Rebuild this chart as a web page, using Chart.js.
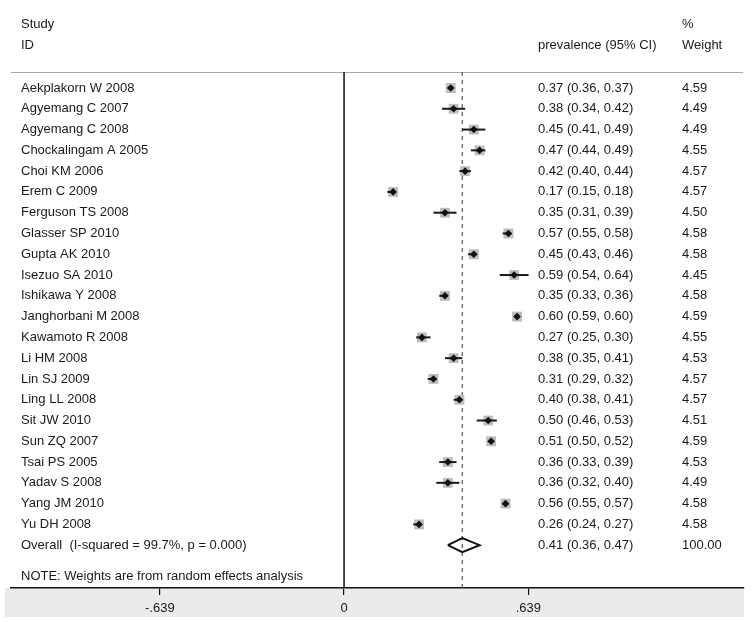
<!DOCTYPE html>
<html>
<head>
<meta charset="utf-8">
<title>Forest plot - prevalence</title>
<script src="https://cdn.jsdelivr.net/npm/chart.js@4/dist/chart.umd.min.js"></script>
<style>
  body { margin: 0; background: #fff; }
  canvas { display: block; }
</style>
</head>
<body>
<canvas id="forest" width="755" height="622"></canvas>
<script>
// study data
const studies = ['Aekplakorn W 2008', 'Agyemang C 2007', 'Agyemang C 2008', 'Chockalingam A 2005',
  'Choi KM 2006', 'Erem C 2009', 'Ferguson TS 2008', 'Glasser SP 2010', 'Gupta AK 2010',
  'Isezuo SA 2010', 'Ishikawa Y 2008', 'Janghorbani M 2008', 'Kawamoto R 2008', 'Li HM 2008',
  'Lin SJ 2009', 'Ling LL 2008', 'Sit JW 2010', 'Sun ZQ 2007', 'Tsai PS 2005', 'Yadav S 2008',
  'Yang JM 2010', 'Yu DH 2008'];
const estimates = [0.37, 0.38, 0.45, 0.47, 0.42, 0.17, 0.35, 0.57, 0.45, 0.59, 0.35, 0.60, 0.27, 0.38, 0.31, 0.40, 0.50, 0.51, 0.36, 0.36, 0.56, 0.26];
const lower = [0.36, 0.34, 0.41, 0.44, 0.40, 0.15, 0.31, 0.55, 0.43, 0.54, 0.33, 0.59, 0.25, 0.35, 0.29, 0.38, 0.46, 0.50, 0.33, 0.32, 0.55, 0.24];
const upper = [0.37, 0.42, 0.49, 0.49, 0.44, 0.18, 0.39, 0.58, 0.46, 0.64, 0.36, 0.60, 0.30, 0.41, 0.32, 0.41, 0.53, 0.52, 0.39, 0.40, 0.57, 0.27];
const weights = [4.59, 4.49, 4.49, 4.55, 4.57, 4.57, 4.50, 4.58, 4.58, 4.45, 4.58, 4.59, 4.55, 4.53, 4.57, 4.57, 4.51, 4.59, 4.53, 4.49, 4.58, 4.58];

// pooled estimate
const overallLabel = 'Overall  (I-squared = 99.7%, p = 0.000)';
const overallEst = 0.41;
const overallLo = 0.36;
const overallHi = 0.47;
const overallWeight = '100.00';
const noteText = 'NOTE: Weights are from random effects analysis';

// axis ticks
const tickValues = [-0.639, 0, 0.639];
const tickLabels = ['-.639', '0', '.639'];

// row positions (one unit per study row)
const overallRow = studies.length;
const noteRow = overallRow + 1.52;
const headerLineRow = -0.77;
const yTop = -4.235;
const yBottom = 24.06;

const FONT = '"Liberation Sans", Arial, Helvetica, sans-serif';
const fmt = v => v.toFixed(2);

const datasets = [];

// study point estimates (black diamonds, drawn on top)
datasets.push({
    type: 'scatter',
    data: estimates.map((e, i) => ({ x: e, y: i })),
    pointStyle: 'rectRot',
    pointRadius: 3.8,
    backgroundColor: '#111',
    borderWidth: 0,
    order: 0
});

// confidence interval whiskers
estimates.forEach((e, i) => {
    datasets.push({
        type: 'line',
        data: [{ x: lower[i], y: i }, { x: upper[i], y: i }],
        borderColor: '#1a1a1a',
        borderWidth: 2,
        pointRadius: 0,
        order: 1
    });
});

// weight boxes (grey squares, area ~ weight)
datasets.push({
    type: 'scatter',
    data: estimates.map((e, i) => ({ x: e, y: i })),
    pointStyle: 'rect',
    pointRadius: weights.map(w => 7 * Math.sqrt(w / 4.59)),
    backgroundColor: '#bdbdbd',
    borderWidth: 0,
    order: 2
});

// overall diamond
datasets.push({
    type: 'line',
    data: [
        { x: overallLo, y: overallRow },
        { x: overallEst, y: overallRow - 0.34 },
        { x: overallHi, y: overallRow },
        { x: overallEst, y: overallRow + 0.34 },
        { x: overallLo, y: overallRow }
    ],
    borderColor: '#111',
    borderWidth: 2,
    pointRadius: 0,
    tension: 0,
    order: 1
});

// line of no effect
datasets.push({
    type: 'line',
    data: [{ x: 0, y: headerLineRow }, { x: 0, y: yBottom }],
    borderColor: '#111',
    borderWidth: 1.5,
    pointRadius: 0,
    order: 3
});

// dashed line at the pooled estimate
datasets.push({
    type: 'line',
    data: [{ x: overallEst, y: headerLineRow }, { x: overallEst, y: yBottom }],
    borderColor: '#555',
    borderWidth: 1.2,
    borderDash: [4, 4],
    pointRadius: 0,
    order: 4
});

// grey band behind the axis + header rule
const backdrop = {
    id: 'backdrop',
    beforeDraw(chart) {
        const { ctx, chartArea, scales } = chart;
        ctx.save();
        ctx.fillStyle = '#ebebeb';
        ctx.fillRect(chartArea.left - 6, chartArea.bottom, chartArea.right - chartArea.left + 6, 29);
        const yl = Math.round(scales.y.getPixelForValue(headerLineRow)) + 0.5;
        ctx.strokeStyle = '#a8a8a8';
        ctx.lineWidth = 1;
        ctx.beginPath();
        ctx.moveTo(chartArea.left, yl);
        ctx.lineTo(chartArea.right - 1, yl);
        ctx.stroke();
        ctx.restore();
    }
};

// text columns
const columns = {
    id: 'columns',
    afterDraw(chart) {
        const { ctx, scales } = chart;
        const y = scales.y;
        const xName = 21, xCi = 538, xWt = 682;
        ctx.save();
        ctx.fillStyle = '#1a1a1a';
        ctx.font = '13px ' + FONT;
        ctx.textBaseline = 'middle';
        ctx.textAlign = 'left';

        ctx.fillText('Study', xName, 24);
        ctx.fillText('ID', xName, 45);
        ctx.fillText('prevalence (95% CI)', xCi, 45);
        ctx.fillText('%', xWt, 24);
        ctx.fillText('Weight', xWt, 45);

        studies.forEach((s, i) => {
            const py = y.getPixelForValue(i);
            ctx.fillText(s, xName, py);
            ctx.fillText(fmt(estimates[i]) + ' (' + fmt(lower[i]) + ', ' + fmt(upper[i]) + ')', xCi, py);
            ctx.fillText(fmt(weights[i]), xWt, py);
        });

        const po = y.getPixelForValue(overallRow);
        ctx.fillText(overallLabel, xName, po);
        ctx.fillText(fmt(overallEst) + ' (' + fmt(overallLo) + ', ' + fmt(overallHi) + ')', xCi, po);
        ctx.fillText(overallWeight, xWt, po);

        ctx.fillText(noteText, xName, y.getPixelForValue(noteRow));
        ctx.restore();
    }
};

new Chart(document.getElementById('forest'), {
    type: 'line',
    data: { datasets },
    plugins: [backdrop, columns],
    options: {
        responsive: false,
        animation: false,
        layout: { autoPadding: false, padding: { left: 11, right: 11, top: 0, bottom: 0 } },
        plugins: {
            legend: { display: false },
            tooltip: { enabled: false }
        },
        scales: {
            x: {
                type: 'linear',
                min: -1.155,
                max: 1.387,
                afterBuildTicks: scale => {
                    scale.ticks = tickValues.map(v => ({ value: v }));
                },
                afterFit: scale => { scale.height = 34; },
                ticks: {
                    color: '#1a1a1a',
                    font: { family: FONT, size: 13 },
                    padding: 6,
                    maxRotation: 0,
                    autoSkip: false,
                    callback: (v, idx) => tickLabels[idx]
                },
                grid: {
                    drawOnChartArea: false,
                    drawTicks: true,
                    tickLength: 7,
                    color: '#111',
                    lineWidth: 1.2
                },
                border: { display: true, color: '#111', width: 1.5 }
            },
            y: {
                type: 'linear',
                display: false,
                reverse: true,
                min: yTop,
                max: yBottom
            }
        }
    }
});
</script>
</body>
</html>
